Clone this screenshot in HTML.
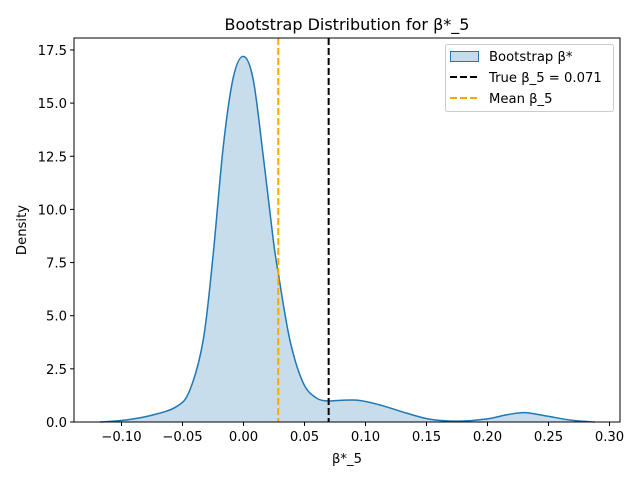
<!DOCTYPE html>
<html><head><meta charset="utf-8"><style>
body{margin:0;background:#fff}
svg text{font-family:"DejaVu Sans","Liberation Sans",sans-serif;fill:#000}
</style></head><body>
<svg width="640" height="480" viewBox="0 0 640 480">
<g id="plot"></g>
</svg>
<script>
const xs=[-0.1176,-0.0984,-0.0765,-0.055,-0.044,-0.033,-0.025,-0.0166,-0.0084,0,0.008,0.0162,0.0244,0.0285,0.038,0.049,0.06,0.0698,0.0712,0.0928,0.112,0.134,0.153,0.175,0.199,0.216,0.2307,0.2485,0.268,0.288];
const dens=[0,0.08,0.3,0.72,1.5,3.86,7.8,12.95,16.2,17.2,16.1,12.5,8.56,7.0,3.86,1.83,1.12,0.98,0.99,1.03,0.8,0.41,0.13,0.04,0.14,0.34,0.44,0.28,0.09,0];
const xTicks=[-0.10,-0.05,0.00,0.05,0.10,0.15,0.20,0.25,0.30];
const xTickLabels=["−0.10","−0.05","0.00","0.05","0.10","0.15","0.20","0.25","0.30"];
const yTicks=[0,2.5,5,7.5,10,12.5,15,17.5];
const yTickLabels=["0.0","2.5","5.0","7.5","10.0","12.5","15.0","17.5"];
const trueBeta=[0.0698];
const meanBeta=[0.0285];
const L=74,R=620,T=38,B=422;
const X=v=>243.5+v*1220;
const Y=v=>B-v*21.26;
const NS="http://www.w3.org/2000/svg";
const g=document.getElementById('plot');
function mk(t,a,txt){const e=document.createElementNS(NS,t);for(const k in a)e.setAttribute(k,a[k]);if(txt!==undefined)e.textContent=txt;g.appendChild(e);return e;}
const P=xs.map((x,i)=>[X(x),Y(dens[i])]);
let d=`M${P[0][0]},${P[0][1]}`;
for(let i=0;i<P.length-1;i++){const p0=P[Math.max(i-1,0)],p1=P[i],p2=P[i+1],p3=P[Math.min(i+2,P.length-1)];
d+=` C${p1[0]+(p2[0]-p0[0])/6},${p1[1]+(p2[1]-p0[1])/6} ${p2[0]-(p3[0]-p1[0])/6},${p2[1]-(p3[1]-p1[1])/6} ${p2[0]},${p2[1]}`;}
const fill=mk('path',{d:d+` L${P[P.length-1][0]},${B} L${P[0][0]},${B} Z`,fill:'#1f77b4','fill-opacity':0.25,stroke:'none'});


const line=mk('path',{d:d,fill:'none',stroke:'#1f77b4','stroke-width':1.5});


const tl=mk('line',{x1:X(trueBeta[0]),x2:X(trueBeta[0]),y1:T,y2:B,stroke:'#000','stroke-width':2,'stroke-dasharray':'7,3'});


const ml=mk('line',{x1:X(meanBeta[0]),x2:X(meanBeta[0]),y1:T,y2:B,stroke:'orange','stroke-width':2,'stroke-dasharray':'7,3'});


const fr=mk('rect',{x:L,y:T,width:R-L,height:B-T,fill:'none',stroke:'#000','stroke-width':1});


xTicks.forEach((v,i)=>{const x=X(v);mk('line',{x1:x,x2:x,y1:B,y2:B+4,stroke:'#000'});
const t=mk('text',{x:x,y:B+19,'text-anchor':'middle','font-size':13.2},xTickLabels[i]);

});
yTicks.forEach((v,i)=>{const y=Y(v);mk('line',{x1:L-4,x2:L,y1:y,y2:y,stroke:'#000'});
const t=mk('text',{x:L-7,y:y+5,'text-anchor':'end','font-size':13.2},yTickLabels[i]);

});
</script>
<svg width="640" height="480" style="position:absolute;left:0;top:0">
<text x="347" y="30" text-anchor="middle" font-size="16">Bootstrap Distribution for β*_5</text>
<text x="347" y="463" text-anchor="middle" font-size="13.2">β*_5</text>
<text x="26" y="230" text-anchor="middle" font-size="13.2" transform="rotate(-90 26 230)">Density</text>
<g>
<rect x="445.5" y="44.5" width="168" height="67" rx="2" fill="#fff" fill-opacity="0.8" stroke="#ccc"/>
<g><rect x="450.5" y="51.5" width="28" height="10" fill="#c6dbeb" stroke="#1f77b4"/><text x="489" y="61" font-size="13.2">Bootstrap β*</text></g>
<g><line x1="450" y1="77" x2="478" y2="77" stroke="#000" stroke-width="2" stroke-dasharray="7,3"/><text x="489" y="82" font-size="13.2">True β_5 = 0.071</text></g>
<g><line x1="450" y1="98" x2="478" y2="98" stroke="orange" stroke-width="2" stroke-dasharray="7,3"/><text x="489" y="103" font-size="13.2">Mean β_5</text></g>
</g>
</svg>
</body></html>
